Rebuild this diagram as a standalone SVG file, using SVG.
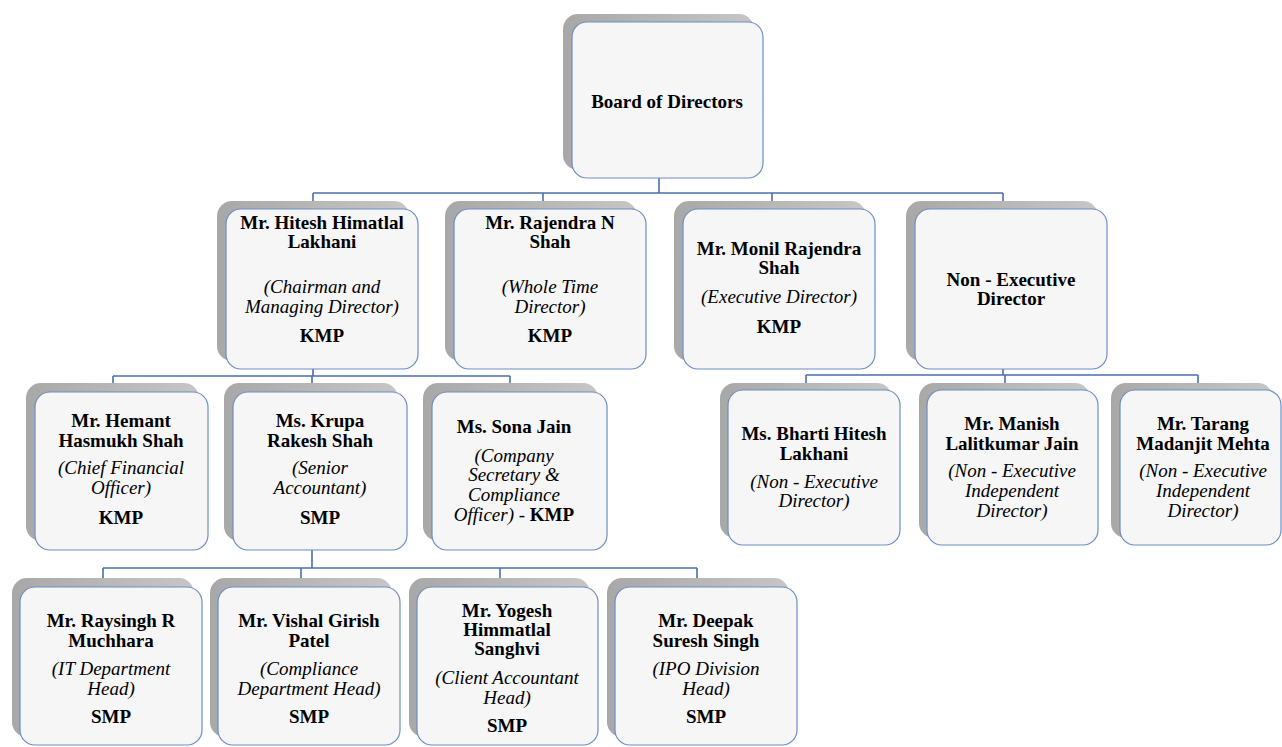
<svg xmlns="http://www.w3.org/2000/svg" width="1282" height="747" viewBox="0 0 1282 747">
<defs>
<linearGradient id="sh" x1="0" y1="0" x2="1" y2="0">
<stop offset="0" stop-color="#a8a8a8"/>
<stop offset="1" stop-color="#c6c6c6"/>
</linearGradient>
</defs>
<style>
.shadow{fill:url(#sh);}
.box{fill:#f6f6f7;stroke:#6f8dc4;stroke-width:1.2;}
.conn{fill:none;stroke:#4a6eae;stroke-width:1.6;}
text{font-family:"Liberation Serif","Times New Roman",serif;font-size:19px;fill:#000;text-anchor:middle;}
.b{font-weight:bold;}
.i{font-style:italic;}
</style>
<rect width="1282" height="747" fill="#ffffff"/>

<g id="connectors">
<path class="conn" d="M659,178 V193 M313,193 H1003 M313,193 V201 M543,193 V201 M772,193 V201 M1003,193 V201"/>
<path class="conn" d="M313,369 V376 M113,376 H510 M113,376 V384 M312,376 V384 M510,376 V384"/>
<path class="conn" d="M1003,369 V375 M806,375 H1198 M806,375 V383 M1005,375 V383 M1198,375 V383"/>
<path class="conn" d="M312,550 V568 M103,568 H697 M103,568 V579 M301,568 V579 M500,568 V579 M697,568 V579"/>
</g>

<g id="board">
<rect class="shadow" x="563" y="14" width="191" height="156" rx="15"/>
<rect class="box" x="572" y="22" width="191" height="156" rx="15"/>
<text class="b" x="667" y="108">Board of Directors</text>
</g>

<g id="hitesh">
<rect class="shadow" x="217" y="201" width="192" height="160" rx="15"/>
<rect class="box" x="226" y="209" width="192" height="160" rx="15"/>
<text class="b" x="322" y="229">Mr. Hitesh Himatlal</text>
<text class="b" x="322" y="248">Lakhani</text>
<text class="i" x="322" y="293">(Chairman and</text>
<text class="i" x="322" y="313">Managing Director)</text>
<text class="b" x="322" y="342">KMP</text>
</g>

<g id="rajendra">
<rect class="shadow" x="445" y="201" width="192" height="160" rx="15"/>
<rect class="box" x="454" y="209" width="192" height="160" rx="15"/>
<text class="b" x="550" y="229">Mr. Rajendra N</text>
<text class="b" x="550" y="248">Shah</text>
<text class="i" x="550" y="293">(Whole Time</text>
<text class="i" x="550" y="313">Director)</text>
<text class="b" x="550" y="342">KMP</text>
</g>

<g id="monil">
<rect class="shadow" x="674" y="201" width="192" height="160" rx="15"/>
<rect class="box" x="683" y="209" width="192" height="160" rx="15"/>
<text class="b" x="779" y="255">Mr. Monil Rajendra</text>
<text class="b" x="779" y="274">Shah</text>
<text class="i" x="779" y="303">(Executive Director)</text>
<text class="b" x="779" y="333">KMP</text>
</g>

<g id="nonexec">
<rect class="shadow" x="906" y="201" width="192" height="160" rx="15"/>
<rect class="box" x="915" y="209" width="192" height="160" rx="15"/>
<text class="b" x="1011" y="286">Non - Executive</text>
<text class="b" x="1011" y="305">Director</text>
</g>

<g id="hemant">
<rect class="shadow" x="26" y="383" width="173" height="158" rx="15"/>
<rect class="box" x="35" y="392" width="173" height="158" rx="15"/>
<text class="b" x="121" y="427">Mr. Hemant</text>
<text class="b" x="121" y="447">Hasmukh Shah</text>
<text class="i" x="121" y="474">(Chief Financial</text>
<text class="i" x="121" y="494">Officer)</text>
<text class="b" x="121" y="524">KMP</text>
</g>

<g id="krupa">
<rect class="shadow" x="224" y="383" width="174" height="158" rx="15"/>
<rect class="box" x="233" y="392" width="174" height="158" rx="15"/>
<text class="b" x="320" y="427">Ms. Krupa</text>
<text class="b" x="320" y="447">Rakesh Shah</text>
<text class="i" x="320" y="474">(Senior</text>
<text class="i" x="320" y="494">Accountant)</text>
<text class="b" x="320" y="524">SMP</text>
</g>

<g id="sona">
<rect class="shadow" x="423" y="383" width="175" height="158" rx="15"/>
<rect class="box" x="432" y="392" width="175" height="158" rx="15"/>
<text class="b" x="514" y="433">Ms. Sona Jain</text>
<text class="i" x="514" y="462">(Company</text>
<text class="i" x="514" y="481">Secretary &amp;</text>
<text class="i" x="514" y="501">Compliance</text>
<text x="514" y="521"><tspan class="i">Officer)</tspan> - <tspan class="b">KMP</tspan></text>
</g>

<g id="bharti">
<rect class="shadow" x="720" y="383" width="172" height="155" rx="15"/>
<rect class="box" x="728" y="390" width="172" height="155" rx="15"/>
<text class="b" x="814" y="440">Ms. Bharti Hitesh</text>
<text class="b" x="814" y="460">Lakhani</text>
<text class="i" x="814" y="488">(Non - Executive</text>
<text class="i" x="814" y="507">Director)</text>
</g>

<g id="manish">
<rect class="shadow" x="919" y="383" width="171" height="155" rx="15"/>
<rect class="box" x="927" y="390" width="171" height="155" rx="15"/>
<text class="b" x="1012" y="430">Mr. Manish</text>
<text class="b" x="1012" y="450">Lalitkumar Jain</text>
<text class="i" x="1012" y="477">(Non - Executive</text>
<text class="i" x="1012" y="497">Independent</text>
<text class="i" x="1012" y="517">Director)</text>
</g>

<g id="tarang">
<rect class="shadow" x="1111" y="383" width="162" height="155" rx="15"/>
<rect class="box" x="1120" y="390" width="161" height="155" rx="15"/>
<text class="b" x="1203" y="430">Mr. Tarang</text>
<text class="b" x="1203" y="450">Madanjit Mehta</text>
<text class="i" x="1203" y="477">(Non - Executive</text>
<text class="i" x="1203" y="497">Independent</text>
<text class="i" x="1203" y="517">Director)</text>
</g>

<g id="raysingh">
<rect class="shadow" x="12" y="578" width="182" height="159" rx="15"/>
<rect class="box" x="20" y="587" width="182" height="158" rx="15"/>
<text class="b" x="111" y="627">Mr. Raysingh R</text>
<text class="b" x="111" y="647">Muchhara</text>
<text class="i" x="111" y="675">(IT Department</text>
<text class="i" x="111" y="695">Head)</text>
<text class="b" x="111" y="723">SMP</text>
</g>

<g id="vishal">
<rect class="shadow" x="210" y="578" width="182" height="159" rx="15"/>
<rect class="box" x="218" y="587" width="182" height="158" rx="15"/>
<text class="b" x="309" y="627">Mr. Vishal Girish</text>
<text class="b" x="309" y="647">Patel</text>
<text class="i" x="309" y="675">(Compliance</text>
<text class="i" x="309" y="695">Department Head)</text>
<text class="b" x="309" y="723">SMP</text>
</g>

<g id="yogesh">
<rect class="shadow" x="409" y="578" width="181" height="159" rx="15"/>
<rect class="box" x="417" y="587" width="181" height="158" rx="15"/>
<text class="b" x="507" y="617">Mr. Yogesh</text>
<text class="b" x="507" y="636">Himmatlal</text>
<text class="b" x="507" y="655">Sanghvi</text>
<text class="i" x="507" y="684">(Client Accountant</text>
<text class="i" x="507" y="704">Head)</text>
<text class="b" x="507" y="732">SMP</text>
</g>

<g id="deepak">
<rect class="shadow" x="607" y="578" width="182" height="159" rx="15"/>
<rect class="box" x="615" y="587" width="182" height="158" rx="15"/>
<text class="b" x="706" y="627">Mr. Deepak</text>
<text class="b" x="706" y="647">Suresh Singh</text>
<text class="i" x="706" y="675">(IPO Division</text>
<text class="i" x="706" y="695">Head)</text>
<text class="b" x="706" y="723">SMP</text>
</g>
</svg>
